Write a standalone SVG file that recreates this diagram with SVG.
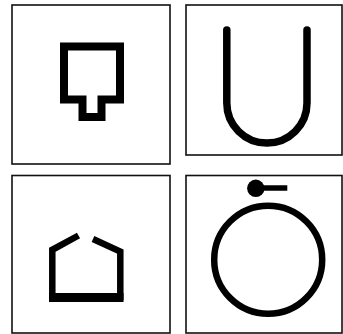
<svg xmlns="http://www.w3.org/2000/svg" width="343" height="334" viewBox="0 0 343 334">
<style>
.box{fill:#fff;stroke:#111;stroke-width:1.6}
.sym{fill:none;stroke:#000;stroke-linejoin:miter}
</style>
<rect width="343" height="334" fill="#fff"/>
<g id="panel-1">
<rect class="box" x="12" y="5" width="158" height="159"/>
<path class="sym" stroke-width="8" d="M64,46.5 H120 V99.5 H101.5 V117 H82.5 V99.5 H64 Z"/>
</g>
<g id="panel-2">
<rect class="box" x="186" y="5" width="156" height="150"/>
<path class="sym" stroke-width="7.5" stroke-linecap="round" d="M226.8,30 V103 A40.1,40 0 0 0 307,103 V30"/>
</g>
<g id="panel-3">
<rect class="box" x="12" y="175.5" width="158" height="157.5"/>
<path class="sym" stroke-width="6.5" d="M78.5,235.5 L52.3,249.8 V297 H120.3 V251.5 L93,239"/>
<rect x="49" y="293" width="74.5" height="9" fill="#000"/>
</g>
<g id="panel-4">
<rect class="box" x="186" y="175.5" width="156" height="157.5"/>
<circle class="sym" stroke-width="6.5" cx="268.2" cy="259.7" r="54"/>
<circle cx="255.8" cy="188.3" r="8.7" fill="#000"/>
<line x1="256" y1="188" x2="287.3" y2="188" stroke="#000" stroke-width="5.5"/>
</g>
</svg>
